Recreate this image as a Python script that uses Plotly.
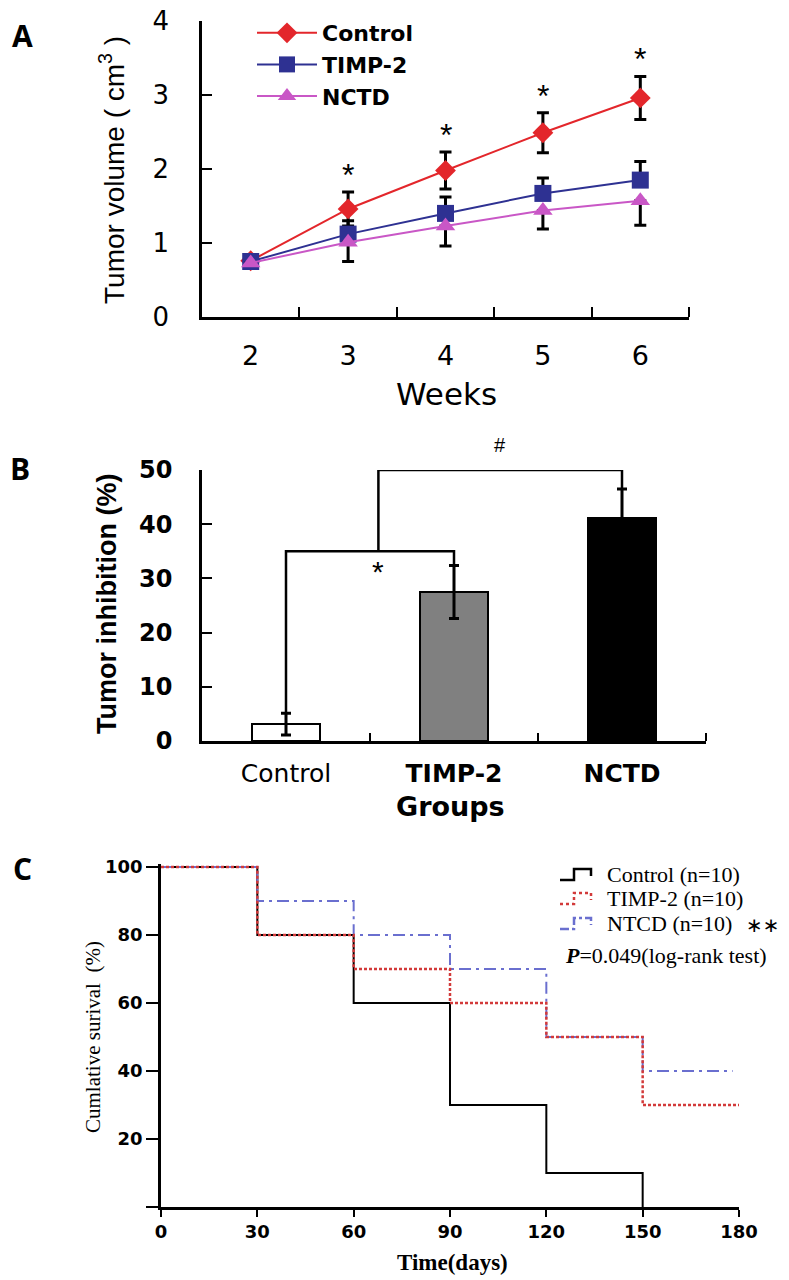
import plotly.graph_objects as go

# the page puts the figure 8px in from the top-left corner, so the figure is
# made 8px smaller and every pixel position below is taken relative to the page
PAGE_W, PAGE_H = 789, 1280
OFF = 8
W, H = PAGE_W - OFF, PAGE_H - OFF

# ---- panel A: tumour volume by week ----
weeks = [2, 3, 4, 5, 6]
vol_control = [0.76, 1.46, 1.98, 2.49, 2.96]
vol_timp2 = [0.75, 1.12, 1.40, 1.67, 1.85]
vol_nctd = [0.73, 1.01, 1.23, 1.44, 1.57]
err_control = [0, 0.23, 0.25, 0.27, 0.29]
err_timp2 = [0, 0.18, 0.22, 0.21, 0.25]
err_nctd = [0, 0.26, 0.27, 0.25, 0.33]
star_weeks = [3, 4, 5, 6]

# ---- panel B: tumour inhibition ----
groups = ["Control", "TIMP-2", "NCTD"]
group_labels = ["Control", "<b>TIMP-2</b>", "<b>NCTD</b>"]
inhibition = [3.1, 27.5, 41.1]
inhibition_err = [2.0, 4.9, 5.4]
bracket_low = 35
bracket_high = 50

# ---- panel C: survival ----
days_control = [0, 30, 60, 90, 120, 150]
surv_control = [100, 80, 60, 30, 10, 0]
days_timp2 = [0, 30, 60, 90, 120, 150, 180]
surv_timp2 = [100, 80, 70, 60, 50, 30, 30]
days_ntcd = [0, 30, 60, 90, 120, 150, 178]
surv_ntcd = [100, 90, 80, 70, 50, 40, 40]

RED = "#e3262b"
NAVY = "#2e3192"
PINK = "#c957c6"
C_RED = "#d23a3a"
C_BLUE = "#6a6fcf"


def fx(p):
    return (p - OFF) / W


def fy(p):
    return 1 - (p - OFF) / H


fig = go.Figure()

# ============================================================
# A
# ============================================================
fig.add_trace(go.Scatter(
    x=weeks, y=vol_control, mode="lines+markers", name="<b>Control</b>",
    line=dict(color=RED, width=2),
    marker=dict(symbol="diamond", size=16, color=RED),
    error_y=dict(type="data", array=err_control, color="black", thickness=3, width=6),
    xaxis="x", yaxis="y", legend="legend",
))
fig.add_trace(go.Scatter(
    x=weeks, y=vol_timp2, mode="lines+markers", name="<b>TIMP-2</b>",
    line=dict(color=NAVY, width=2),
    marker=dict(symbol="square", size=17, color=NAVY),
    error_y=dict(type="data", symmetric=False, array=err_timp2,
                 arrayminus=[0] * len(weeks), color="black", thickness=3, width=6),
    xaxis="x", yaxis="y", legend="legend",
))
fig.add_trace(go.Scatter(
    x=weeks, y=vol_nctd, mode="lines+markers", name="<b>NCTD</b>",
    line=dict(color=PINK, width=2),
    marker=dict(symbol="triangle-up", size=17, color=PINK),
    error_y=dict(type="data", symmetric=False, array=[0] * len(weeks),
                 arrayminus=err_nctd, color="black", thickness=3, width=6),
    xaxis="x", yaxis="y", legend="legend",
))

# asterisks above the Control error bars
for w in star_weeks:
    i = weeks.index(w)
    fig.add_annotation(x=w, y=vol_control[i] + err_control[i], xref="x", yref="y",
                       text="*", showarrow=False, yanchor="bottom", yshift=-3,
                       font=dict(family="Liberation Sans", size=32, color="black"))

# ============================================================
# B
# ============================================================
xpos = list(range(len(groups)))
fig.add_trace(go.Bar(
    x=xpos, y=inhibition, width=0.41,
    marker=dict(color=["white", "#808080", "black"], line=dict(color="black", width=2)),
    error_y=dict(type="data", array=inhibition_err, color="black", thickness=3, width=5),
    xaxis="x2", yaxis="y2", showlegend=False,
))

top_c = inhibition[0] + inhibition_err[0]
top_t = inhibition[1] + inhibition_err[1]
top_n = inhibition[2] + inhibition_err[2]
stem = 0.55
bk = dict(color="black", width=2.5)
fig.add_shape(type="path", xref="x2", yref="y2", line=bk,
              path=f"M {xpos[0]},{top_c} L {xpos[0]},{bracket_low} L {xpos[1]},{bracket_low} L {xpos[1]},{top_t}")
fig.add_shape(type="path", xref="x2", yref="y2", line=bk,
              path=f"M {stem},{bracket_low} L {stem},{bracket_high} L {xpos[2]},{bracket_high} L {xpos[2]},{top_n}")
fig.add_annotation(x=stem, y=bracket_low, xref="x2", yref="y2", text="*", showarrow=False,
                   yanchor="top", yshift=-2,
                   font=dict(family="Liberation Sans", size=30, color="black"))
fig.add_annotation(x=(stem + xpos[2]) / 2, y=bracket_high, xref="x2", yref="y2", text="#",
                   showarrow=False, yanchor="bottom", yshift=12,
                   font=dict(family="Liberation Sans", size=20, color="black"))

# ============================================================
# C
# ============================================================
fig.add_trace(go.Scatter(x=days_control, y=surv_control, mode="lines", line_shape="hv",
                         line=dict(color="black", width=2), xaxis="x3", yaxis="y3",
                         showlegend=False))
fig.add_trace(go.Scatter(x=days_ntcd, y=surv_ntcd, mode="lines", line_shape="hv",
                         line=dict(color=C_BLUE, width=2, dash="12px,5px,3px,5px"),
                         xaxis="x3", yaxis="y3", showlegend=False))
fig.add_trace(go.Scatter(x=days_timp2, y=surv_timp2, mode="lines", line_shape="hv",
                         line=dict(color=C_RED, width=2.5, dash="3px,2px"),
                         xaxis="x3", yaxis="y3", showlegend=False))

# hand made step legend for C
leg_rows = [("Control (n=10)", "black", "solid", 874),
            ("TIMP-2 (n=10)", C_RED, "dot", 898),
            ("NTCD (n=10)", C_BLUE, "dashdot", 923)]
for label, col, dash, yc in leg_rows:
    pts = [(560, yc + 6), (574, yc + 6), (574, yc - 5), (591, yc - 5), (591, yc + 2)]
    path = "M " + " L ".join(f"{fx(a)},{fy(b)}" for a, b in pts)
    fig.add_shape(type="path", xref="paper", yref="paper", path=path,
                  line=dict(color=col, width=2.5, dash=dash))
    fig.add_annotation(x=fx(605), y=fy(yc), xref="paper", yref="paper", text=label,
                       showarrow=False, xanchor="left", yanchor="middle",
                       font=dict(family="Liberation Serif", size=22, color="black"))
fig.add_annotation(x=fx(763), y=fy(925), xref="paper", yref="paper", text="∗∗",
                   showarrow=False, xanchor="center", yanchor="middle",
                   font=dict(family="DejaVu Sans", size=20, color="black"))
fig.add_annotation(x=fx(563), y=fy(956), xref="paper", yref="paper",
                   text="<b><i>P</i></b>=0.049(log-rank test)",
                   showarrow=False, xanchor="left", yanchor="middle",
                   font=dict(family="Liberation Serif", size=22, color="black"))

# ============================================================
# titles and panel letters
# ============================================================
labels = [
    ("A", 22, 36, 0, dict(family="Open Sans", size=30, color="black", weight="bold")),
    ("B", 20, 468, 0, dict(family="Open Sans", size=30, color="black", weight="bold")),
    ("C", 22, 868, 0, dict(family="Open Sans", size=30, color="black", weight="bold")),
    ("Tumor volume ( cm<sup>3</sup> )", 112, 170, -90,
     dict(family="Liberation Sans", size=28, color="black")),
    ("Weeks", 446, 394, 0, dict(family="DejaVu Sans", size=31, color="black")),
    ("Tumor inhibition (%)", 107, 604, -90,
     dict(family="Liberation Sans Narrow, Liberation Sans", size=27, color="black", weight="bold")),
    ("Groups", 450, 806, 0, dict(family="DejaVu Sans", size=27, color="black", weight="bold")),
    ("Cumlative surival  (%)", 93, 1037, -90,
     dict(family="Liberation Serif", size=21, color="black")),
    ("Time(days)", 452, 1262, 0, dict(family="Liberation Serif", size=23, color="black", weight="bold")),
]
for txt, x, y, ang, fnt in labels:
    fig.add_annotation(x=fx(x), y=fy(y), xref="paper", yref="paper", text=txt,
                       showarrow=False, textangle=ang, xanchor="center", yanchor="middle",
                       font=fnt)

axis_common = dict(showline=True, linecolor="black", linewidth=2.5, showgrid=False,
                   zeroline=False, tickcolor="black", tickwidth=2, automargin=False,
                   ticklabeloverflow="allow")

fig.update_layout(
    template="none",
    width=W, height=H,
    margin=dict(l=0, r=0, t=0, b=0, pad=0),
    paper_bgcolor="white", plot_bgcolor="white",
    bargap=0,
    xaxis=dict(**axis_common, domain=[fx(202), fx(689)], range=[1.5, 6.5],
               tickvals=weeks, ticks="", ticklabelstandoff=13,
               tickfont=dict(family="DejaVu Sans", size=27, color="black"),
               minor=dict(tickvals=[2.5, 3.5, 4.5, 5.5, 6.5], ticks="inside", ticklen=10,
                          tickwidth=2, tickcolor="black"),
               anchor="y"),
    yaxis=dict(**axis_common, domain=[fy(317), fy(21)], range=[0, 4],
               tickvals=[0, 1, 2, 3, 4], ticks="inside", ticklen=10, ticklabelstandoff=25,
               tickfont=dict(family="DejaVu Sans", size=26, color="black"),
               anchor="x"),
    xaxis2=dict(**axis_common, domain=[fx(202), fx(706)], range=[-0.5, 2.5],
                tickvals=xpos, ticktext=group_labels, ticks="", ticklabelstandoff=8,
                tickfont=dict(family="DejaVu Sans", size=25, color="black"),
                minor=dict(tickvals=[0.5, 1.5, 2.5], ticks="inside", ticklen=8,
                           tickwidth=2, tickcolor="black"),
                anchor="y2"),
    yaxis2=dict(**axis_common, domain=[fy(741), fy(470)], range=[0, 50],
                tickvals=[0, 10, 20, 30, 40, 50], ticks="inside", ticklen=10,
                ticklabelstandoff=22,
                tickfont=dict(family="DejaVu Sans", size=24, color="black", weight="bold"),
                anchor="x2"),
    xaxis3=dict(**axis_common, domain=[fx(161), fx(739)], range=[0, 180],
                tickvals=[0, 30, 60, 90, 120, 150, 180], ticks="outside", ticklen=7,
                tickfont=dict(family="DejaVu Sans", size=18, color="black", weight="bold"),
                anchor="y3"),
    yaxis3=dict(**axis_common, domain=[fy(1207), fy(1207 - 101 * 3.4)], range=[0, 101],
                tickvals=[20, 40, 60, 80, 100],
                ticks="outside", ticklen=12,
                minor=dict(tickvals=[0], ticks="outside", ticklen=12, tickwidth=2,
                           tickcolor="black"),
                tickfont=dict(family="DejaVu Sans", size=18, color="black", weight="bold"),
                anchor="x3"),
    legend=dict(x=fx(252), y=fy(12), xanchor="left", yanchor="top",
                font=dict(family="DejaVu Sans", size=22, color="black"),
                bgcolor="rgba(0,0,0,0)", itemwidth=60, tracegroupgap=0,
                traceorder="normal"),
)

fig.write_html("out.html")
